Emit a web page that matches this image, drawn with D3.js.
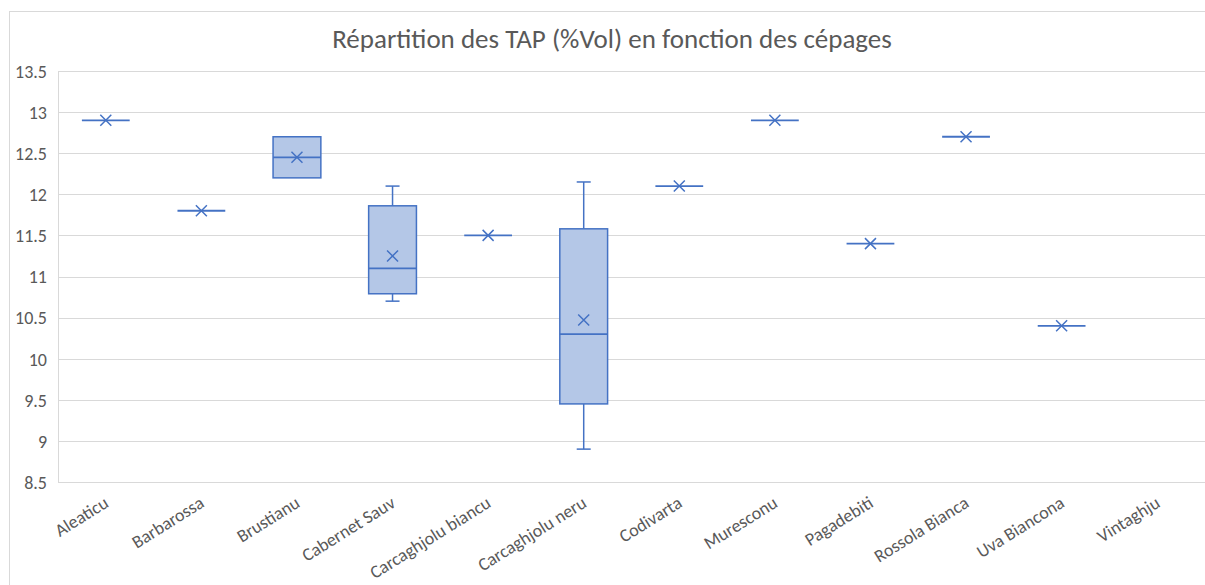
<!DOCTYPE html>
<html>
  <head>
    <script src="https://d3js.org/d3.v7.min.js"></script>
    <meta charset="utf-8">
    <style>
    body {
      margin: 0;
      background: #fff;
    }
    text {
      fill: #595959;
      font-family: Carlito, Calibri, "Open Sans", sans-serif;
    }
  </style>
  </head>
  <body>
    <div id="chart"></div>
    <script>
    // cépages
    var categories = ['Aleaticu', 'Barbarossa', 'Brustianu', 'Cabernet Sauv', 'Carcaghjolu biancu',
      'Carcaghjolu neru', 'Codivarta', 'Muresconu', 'Pagadebiti', 'Rossola Bianca', 'Uva Biancona', 'Vintaghju'];
    // box stats per cépage (null = no data)
    var mins    = [12.9, 11.8, 12.2, 10.7,  11.5, 8.9,   12.1, 12.9, 11.4, 12.7, 10.4, null];
    var q1s     = [12.9, 11.8, 12.2, 10.79, 11.5, 9.45,  12.1, 12.9, 11.4, 12.7, 10.4, null];
    var medians = [12.9, 11.8, 12.45, 11.1, 11.5, 10.3,  12.1, 12.9, 11.4, 12.7, 10.4, null];
    var q3s     = [12.9, 11.8, 12.7, 11.86, 11.5, 11.58, 12.1, 12.9, 11.4, 12.7, 10.4, null];
    var maxs    = [12.9, 11.8, 12.7, 12.1,  11.5, 12.15, 12.1, 12.9, 11.4, 12.7, 10.4, null];
    var means   = [12.9, 11.8, 12.45, 11.25, 11.5, 10.47, 12.1, 12.9, 11.4, 12.7, 10.4, null];
    var yTicks = [8.5, 9, 9.5, 10, 10.5, 11, 11.5, 12, 12.5, 13, 13.5];

    var W = 1205, H = 585;
    var margin = {left: 58, right: 0, top: 71, bottom: 103};

    var svg = d3.select('#chart').append('svg')
      .attr('width', W)
      .attr('height', H);

    // chart frame
    svg.append('rect')
      .attr('x', 9.5).attr('y', 11.5)
      .attr('width', W).attr('height', H)
      .attr('fill', '#fff')
      .attr('stroke', '#d9d9d9');

    svg.append('text')
      .attr('x', 612).attr('y', 48)
      .attr('text-anchor', 'middle')
      .style('font-size', '27px')
      .text('Répartition des TAP (%Vol) en fonction des cépages');

    var x = d3.scaleBand()
      .domain(categories)
      .range([margin.left, W - margin.right]);

    var y = d3.scaleLinear()
      .domain([8.5, 13.5])
      .range([H - margin.bottom, margin.top]);

    // gridlines
    svg.append('g')
      .selectAll('line')
      .data(yTicks)
      .join('line')
        .attr('x1', margin.left).attr('x2', W)
        .attr('y1', d => Math.round(y(d)) + 0.5)
        .attr('y2', d => Math.round(y(d)) + 0.5)
        .attr('stroke', '#d9d9d9')
        .attr('stroke-width', 1);

    // left axis line
    svg.append('line')
      .attr('x1', margin.left + 0.5).attr('x2', margin.left + 0.5)
      .attr('y1', y(13.5)).attr('y2', y(8.5))
      .attr('stroke', '#d9d9d9');

    var yAxis = svg.append('g')
      .attr('transform', 'translate(' + margin.left + ',0)')
      .call(d3.axisLeft(y).tickValues(yTicks).tickSize(0).tickPadding(11).tickFormat(d3.format('')));
    yAxis.select('.domain').remove();
    yAxis.selectAll('text')
      .style('font-size', '18px')
      .attr('dy', '0.35em');

    var xAxis = svg.append('g')
      .attr('transform', 'translate(0,' + y(8.5) + ')')
      .call(d3.axisBottom(x).tickSize(0).tickPadding(0));
    xAxis.select('.domain').remove();
    xAxis.selectAll('text')
      .style('font-size', '18px')
      .attr('text-anchor', 'end')
      .attr('dy', null)
      .attr('y', 0)
      .attr('transform', 'translate(4,24) rotate(-32)');

    var data = categories.map(function (c, i) {
      return {cat: c, min: mins[i], q1: q1s[i], med: medians[i], q3: q3s[i], max: maxs[i], mean: means[i]};
    }).filter(d => d.med !== null);

    var stroke = '#4472c4';
    var boxW = x.bandwidth() * 0.5;
    var capW = 14;

    var g = svg.append('g')
      .selectAll('g')
      .data(data)
      .join('g')
        .attr('transform', d => 'translate(' + (x(d.cat) + x.bandwidth() / 2) + ',0)');

    // whiskers
    g.filter(d => d.max > d.q3).append('line')
      .attr('x1', 0).attr('x2', 0)
      .attr('y1', d => y(d.q3)).attr('y2', d => y(d.max))
      .attr('stroke', stroke).attr('stroke-width', 1.5);
    g.filter(d => d.max > d.q3).append('line')
      .attr('x1', -capW / 2).attr('x2', capW / 2)
      .attr('y1', d => y(d.max)).attr('y2', d => y(d.max))
      .attr('stroke', stroke).attr('stroke-width', 1.5);
    g.filter(d => d.min < d.q1).append('line')
      .attr('x1', 0).attr('x2', 0)
      .attr('y1', d => y(d.q1)).attr('y2', d => y(d.min))
      .attr('stroke', stroke).attr('stroke-width', 1.5);
    g.filter(d => d.min < d.q1).append('line')
      .attr('x1', -capW / 2).attr('x2', capW / 2)
      .attr('y1', d => y(d.min)).attr('y2', d => y(d.min))
      .attr('stroke', stroke).attr('stroke-width', 1.5);

    // boxes
    g.append('rect')
      .attr('x', -boxW / 2)
      .attr('width', boxW)
      .attr('y', d => y(d.q3))
      .attr('height', d => y(d.q1) - y(d.q3))
      .attr('fill', '#b4c7e7')
      .attr('stroke', stroke)
      .attr('stroke-width', 1.5);

    // median
    g.append('line')
      .attr('x1', -boxW / 2).attr('x2', boxW / 2)
      .attr('y1', d => y(d.med)).attr('y2', d => y(d.med))
      .attr('stroke', stroke).attr('stroke-width', 1.8);

    // mean marker (x)
    var m = 5.5;
    g.append('path')
      .attr('d', d => {
        var cy = y(d.mean);
        return 'M' + (-m) + ',' + (cy - m) + 'L' + m + ',' + (cy + m) +
          'M' + m + ',' + (cy - m) + 'L' + (-m) + ',' + (cy + m);
      })
      .attr('fill', 'none')
      .attr('stroke', stroke)
      .attr('stroke-width', 1.5);
  </script>
  </body>
</html>
